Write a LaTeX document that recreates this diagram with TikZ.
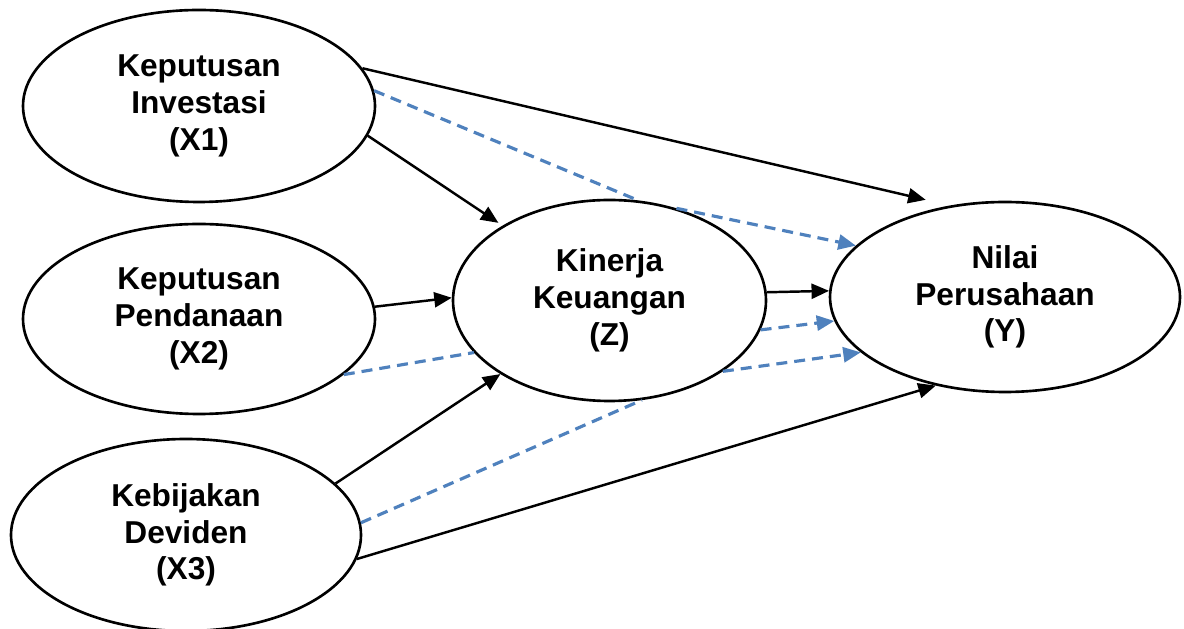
\documentclass[tikz,border=0pt]{standalone}
\usepackage{fontspec}
\setmainfont{Liberation Sans}
\usetikzlibrary{shapes.geometric,arrows.meta}

\definecolor{indblue}{HTML}{4F81BD}

\tikzset{
  var/.style={ellipse, draw, line width=1.5pt, fill=white, align=center,
    minimum width=7.04cm, minimum height=3.84cm, inner sep=0pt,
    font=\bfseries\fontsize{18}{20.9}\selectfont},
  direct/.style={->, line width=1.4pt},
  indirect/.style={draw=indblue, line width=1.8pt,
    dash pattern=on 0.22cm off 0.14cm},
}

\begin{document}
\begin{tikzpicture}[>={Triangle[length=0.35cm,width=0.3cm]}]
      \useasboundingbox (0,0) rectangle (23.68,12.56);
      \node [var] (X1) at (3.98,10.44) {Keputusan\\Investasi\\(X1)};
      \node [var, minimum height=3.8cm] (X2) at (3.98,6.18)
      {Keputusan\\Pendanaan\\(X2)};
      \node [var, minimum width=7cm] (X3) at (3.72,1.86)
      {Kebijakan\\Deviden\\(X3)};
      \node [var, minimum width=6.26cm, minimum height=4.02cm] (Z) at
      (12.19,6.55) {Kinerja\\Keuangan\\(Z)};
      \node [var, minimum width=7cm, minimum height=3.8cm] (Y) at
      (20.10,6.62) {Nilai\\Perusahaan\\(Y)};
      %
      \draw [direct, shorten >=0.5cm] (X1.13) -- (Y.121);
      \draw [direct, shorten >=0.1cm] (X1.-10.5) -- (Z.145);
      \draw [direct] (X2.4) -- (Z.179);
      \draw [direct] (X3.19) -- (Z.214);
      \draw [direct] (Z.3) -- (Y.178);
      \draw [direct] (X3.-8) -- (Y.232);
      %
      \draw [indirect] (X1.5) -- (Z.74.5);
      \draw [indirect, ->] (Z.54.6) -- (Y.161);
      \draw [indirect] (X2.-21) -- (Z.201.6);
      \draw [indirect, ->] (Z.-11) -- (Y.188);
      \draw [indirect] (X3.4) -- (Z.-72);
      \draw [indirect, ->] (Z.-32.6) -- (Y.201);
      %
    \end{tikzpicture}
\end{document}
